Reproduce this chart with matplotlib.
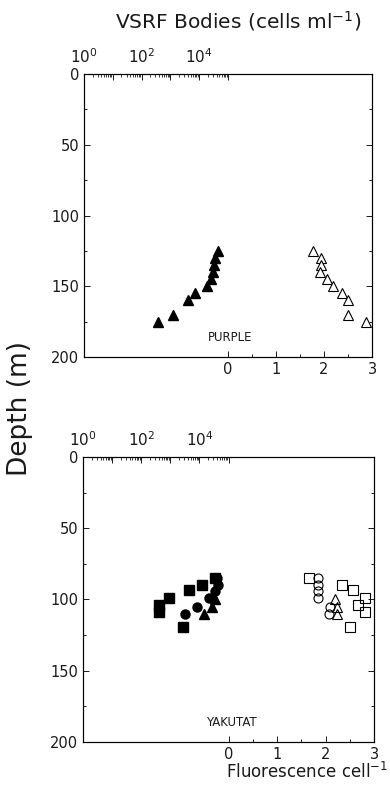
import numpy as np
import matplotlib
matplotlib.use('Agg')
import matplotlib.pyplot as plt
from matplotlib.ticker import FixedLocator, NullFormatter

plt.rcParams['font.family'] = ['DejaVu Sans']
plt.rcParams['mathtext.default'] = 'regular'

# PURPLE 정점: 깊이(m), VSRF bodies(cells/ml), 형광/cell
purple_depth = [125, 130, 135, 140, 145, 150, 155, 160, 170, 175]
purple_vsrf = [44000, 35000, 32000, 30000, 25000, 18000, 7000, 4000, 1250, 360]
purple_fluor = [1.78, 1.93, 1.93, 1.92, 2.07, 2.19, 2.38, 2.49, 2.51, 2.88]

# YAKUTAT 정점 (사각형 / 원 / 삼각형 세 관측)
yak_sq_depth = [85, 90, 93, 99, 104, 109, 119]
yak_sq_vsrf = [35000, 12500, 4400, 880, 400, 400, 2800]
yak_sq_fluor = [1.65, 2.33, 2.57, 2.81, 2.68, 2.81, 2.5]

yak_ci_depth = [85, 90, 94, 99, 105, 110]
yak_ci_vsrf = [40000, 45000, 35000, 22000, 8000, 3200]
yak_ci_fluor = [1.85, 1.85, 1.85, 1.85, 2.09, 2.08]

yak_tr_depth = [100, 105, 110]
yak_tr_vsrf = [35000, 28000, 14000]
yak_tr_fluor = [2.2, 2.23, 2.23]

depth_ticks = [0, 50, 100, 150, 200]
fluor_ticks = [0, 1, 2, 3]
vsrf_ticks = [1e0, 1e1, 1e2, 1e3, 1e4, 1e5]
vsrf_labels = ['$10^0$', '', '$10^2$', '', '$10^4$', '']

ink = '#1a1a1a'
fig = plt.figure(figsize=(3.9, 8), dpi=100)


def make_panel(rect, name):
    ax = fig.add_axes(rect)
    ax.set_xlim(-3, 3)
    ax.set_ylim(200, 0)
    ax.set_xticks(fluor_ticks)
    ax.xaxis.set_minor_locator(FixedLocator([0.5, 1.5, 2.5]))
    ax.set_yticks(depth_ticks)
    ax.yaxis.set_minor_locator(FixedLocator([25, 75, 125, 175]))
    ax.tick_params(which='both', direction='in', colors=ink, labelsize=10.5,
                   left=True, right=True, top=False, bottom=True)
    ax.tick_params(which='major', length=4, width=0.7)
    ax.tick_params(which='minor', length=2.5, width=0.7)
    for s in ax.spines.values():
        s.set_linewidth(0.8)
        s.set_color(ink)

    # 위쪽 로그축 (VSRF bodies)
    axt = ax.twiny()
    axt.set_xscale('log')
    axt.set_xlim(1, 1e10)
    axt.xaxis.set_major_locator(FixedLocator(vsrf_ticks))
    axt.set_xticklabels(vsrf_labels)
    minors = [m * 10.0 ** k for k in range(5) for m in range(2, 10)]
    axt.xaxis.set_minor_locator(FixedLocator(minors))
    axt.xaxis.set_minor_formatter(NullFormatter())
    axt.tick_params(which='both', direction='in', colors=ink, labelsize=11)
    axt.tick_params(which='major', length=4, width=0.7, pad=6)
    axt.tick_params(which='minor', length=2, width=0.6)
    axt.set_ylim(200, 0)

    ax.text(0.05, 186, name, ha='center', va='center', fontsize=8.5, color=ink)
    return ax, axt


# 위 패널: PURPLE
ax1, ax1t = make_panel([0.2154, 0.5537, 0.7385, 0.3538], 'PURPLE')
ax1t.plot(purple_vsrf, purple_depth, '^', color='black', ms=7, ls='none')
ax1.plot(purple_fluor, purple_depth, '^', mfc='white', mec='black', mew=0.8,
         ms=7, ls='none', clip_on=False)

# 아래 패널: YAKUTAT
ax2, ax2t = make_panel([0.2128, 0.0725, 0.7462, 0.3563], 'YAKUTAT')
ax2t.plot(yak_sq_vsrf, yak_sq_depth, 's', color='black', ms=6.5, ls='none')
ax2t.plot(yak_ci_vsrf, yak_ci_depth, 'o', color='black', ms=6.5, ls='none')
ax2t.plot(yak_tr_vsrf, yak_tr_depth, '^', color='black', ms=7, ls='none')
ax2.plot(yak_sq_fluor, yak_sq_depth, 's', mfc='none', mec='black', mew=0.8,
         ms=6.5, ls='none', clip_on=False)
ax2.plot(yak_ci_fluor, yak_ci_depth, 'o', mfc='none', mec='black', mew=0.8,
         ms=6.5, ls='none')
ax2.plot(yak_tr_fluor, yak_tr_depth, '^', mfc='none', mec='black', mew=0.8,
         ms=7, ls='none')

# 축 제목
fig.text(0.61, 0.974, 'VSRF Bodies (cells ml$^{-1}$)', ha='center',
         va='center', fontsize=14.5, color=ink)
fig.text(0.052, 0.49, 'Depth (m)', rotation=90, ha='center', va='center',
         fontsize=19, color=ink)
fig.text(0.995, 0.035, 'Fluorescence cell$^{-1}$', ha='right', va='center',
         fontsize=12, color=ink)

fig.savefig('out.png', dpi=100)
